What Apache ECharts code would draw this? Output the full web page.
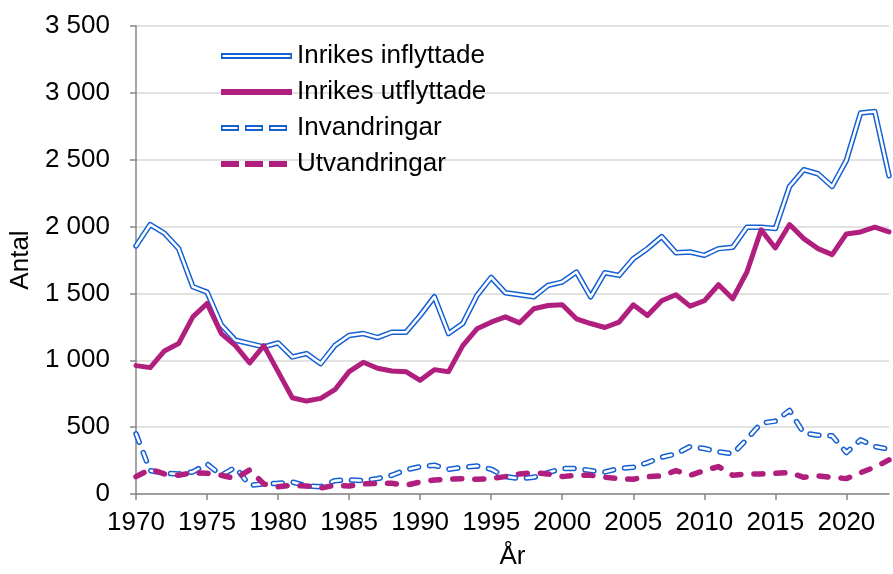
<!DOCTYPE html>
<html>
<head>
<meta charset="utf-8">
<script src="https://cdn.jsdelivr.net/npm/echarts@6/dist/echarts.min.js"></script>
<style>
  html, body { margin: 0; padding: 0; background: #fff; }
  #chart { width: 893px; height: 574px; }
</style>
</head>
<body>
<div id="chart"></div>
<script>
var years = [];
for (var y = 1970; y <= 2023; y++) years.push(String(y));

var inflyttade = [1855, 2015, 1950, 1835, 1550, 1510, 1265, 1150, 1125, 1100,
  1130, 1025, 1050, 975, 1110, 1185, 1200, 1170, 1210, 1210,
  1335, 1475, 1200, 1275, 1485, 1620, 1505, 1490, 1475, 1560,
  1585, 1660, 1475, 1655, 1635, 1760, 1835, 1925, 1805, 1810,
  1785, 1835, 1845, 1995, 1995, 1985, 2300, 2425, 2395, 2300,
  2495, 2850, 2860, 2380];
var utflyttade = [960, 945, 1070, 1125, 1325, 1425, 1200, 1110, 980, 1110,
  915, 720, 695, 715, 780, 915, 985, 940, 920, 915,
  850, 930, 915, 1110, 1235, 1285, 1325, 1280, 1385, 1410,
  1415, 1310, 1275, 1245, 1285, 1415, 1335, 1445, 1490, 1405,
  1445, 1565, 1460, 1660, 1975, 1840, 2015, 1910, 1835, 1790,
  1945, 1960, 1995, 1960];
var invandringar = [450, 175, 155, 150, 165, 225, 140, 200, 65, 75,
  80, 90, 60, 55, 100, 105, 100, 115, 140, 180,
  205, 215, 185, 200, 210, 185, 130, 115, 125, 160,
  190, 190, 175, 165, 190, 200, 235, 275, 300, 355,
  340, 315, 300, 410, 530, 545, 625, 455, 440, 435,
  310, 405, 355, 335];
var utvandringar = [130, 185, 150, 140, 160, 155, 140, 115, 180, 75,
  55, 65, 60, 45, 65, 60, 75, 80, 80, 65,
  90, 105, 110, 115, 110, 115, 130, 150, 160, 150,
  130, 140, 140, 125, 115, 110, 130, 135, 175, 140,
  175, 205, 140, 150, 150, 155, 160, 125, 135, 125,
  115, 160, 200, 255];

var names = ['Inrikes inflyttade', 'Inrikes utflyttade', 'Invandringar', 'Utvandringar'];

var blue = '#1560d3';
var magenta = '#b01f7e';
var font = 'Arial, "Liberation Sans", sans-serif';
var fs = 26;

// legend icons (71 x 6)
var iconDouble = 'path://M0,0H71V6H0Z M1.6,2V4H69.4V2Z';
var iconSolid = 'path://M0,0H71V6H0Z';
var iconDashDouble = 'path://M0,0H18V6H0Z M1.6,2V4H16.4V2Z M24,0H42V6H24Z M25.6,2V4H40.4V2Z M48,0H66V6H48Z M49.6,2V4H64.4V2Z M71,0H71V6H71Z';
var iconDash = 'path://M0,0H18V6H0Z M24,0H42V6H24Z M48,0H66V6H48Z M71,0H71V6H71Z';

var chart = echarts.init(document.getElementById('chart'), null, { renderer: 'canvas' });

function line(name, data, color, width, dash, z) {
  return {
    name: name,
    type: 'line',
    data: data,
    symbol: 'none',
    z: z,
    silent: true,
    itemStyle: { color: color, borderWidth: 0 },
    lineStyle: { color: color, width: width, type: dash || 'solid', cap: 'round', join: 'round' }
  };
}

var option = {
  animation: false,
  backgroundColor: '#fff',
  textStyle: { fontFamily: font, color: '#000' },
  grid: { left: 136, right: 4, top: 26, bottom: 80, outerBoundsMode: 'none', containLabel: false },
  legend: {
    orient: 'vertical',
    left: 221,
    top: 42,
    padding: 0,
    itemWidth: 71,
    itemHeight: 6,
    itemGap: 8,
    selectedMode: false,
    itemStyle: { borderWidth: 0 },
    textStyle: { fontFamily: font, fontSize: fs, color: '#000', lineHeight: 28 },
    data: [
      { name: names[0], icon: iconDouble },
      { name: names[1], icon: iconSolid },
      { name: names[2], icon: iconDashDouble },
      { name: names[3], icon: iconDash }
    ]
  },
  xAxis: {
    type: 'category',
    data: years,
    boundaryGap: false,
    name: 'År',
    nameLocation: 'middle',
    nameGap: 50,
    nameTextStyle: { fontFamily: font, fontSize: fs, color: '#000' },
    axisLine: { lineStyle: { color: '#868686', width: 1.5 } },
    axisTick: {
      length: 6,
      interval: function (i) { return i % 5 === 0; },
      lineStyle: { color: '#868686', width: 1.5 }
    },
    axisLabel: {
      margin: 16,
      fontFamily: font,
      fontSize: fs,
      color: '#000',
      interval: function (i) { return i % 5 === 0; }
    },
    splitLine: { show: false }
  },
  yAxis: {
    type: 'value',
    min: 0,
    max: 3500,
    interval: 500,
    name: 'Antal',
    nameLocation: 'middle',
    nameGap: 100,
    nameTextStyle: { fontFamily: font, fontSize: fs, color: '#000' },
    axisLine: { show: true, lineStyle: { color: '#868686', width: 1.5 } },
    axisTick: { show: true, length: 6, lineStyle: { color: '#868686', width: 1.5 } },
    axisLabel: {
      margin: 26,
      fontFamily: font,
      fontSize: fs,
      color: '#000',
      formatter: function (v) {
        return String(v).replace(/\B(?=(\d{3})+(?!\d))/g, ' ');
      }
    },
    splitLine: { lineStyle: { color: '#d9d9d9', width: 1.5 } }
  },
  series: [
    line(names[0], inflyttade, blue, 5.5, null, 2),
    line('inflyttade_inner', inflyttade, '#ffffff', 2.5, null, 3),
    line(names[1], utflyttade, magenta, 5, null, 4),
    line(names[2], invandringar, blue, 5.5, [9, 11], 5),
    line('invandringar_inner', invandringar, '#ffffff', 2.5, [9, 11], 6),
    line(names[3], utvandringar, magenta, 5.5, [9, 13], 7)
  ]
};

chart.setOption(option);
</script>
</body>
</html>
